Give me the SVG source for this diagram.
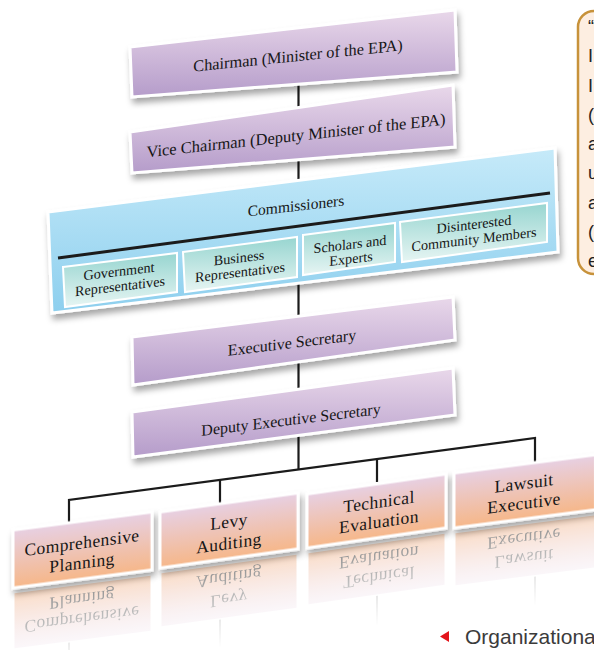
<svg xmlns="http://www.w3.org/2000/svg" width="594" height="650" viewBox="0 0 594 650">
<defs>
<style>
.t{font-family:"Liberation Serif","DejaVu Serif",serif;fill:#161616;text-anchor:middle}
.big{font-size:16px}
.sub{font-size:14.2px}
.bot{font-size:17.5px;letter-spacing:0.4px}
.pb{fill:url(#gPurple);stroke:#fff;stroke-width:3;filter:url(#sh)}
.bb{fill:url(#gBlue);stroke:#fff;stroke-width:3;filter:url(#sh)}
.tb{fill:url(#gTeal);stroke:#fff;stroke-width:2}
.ob{fill:url(#gPeach);stroke:#fff;stroke-width:3;filter:url(#sh)}
.rb{fill:url(#gPeach);stroke:#fff;stroke-width:3}
.refl{opacity:0.55}
.rl{stroke:#555;stroke-width:1.5}
.con{fill:none;stroke:#1b1b1b;stroke-width:2.2}
.c{font-family:"Liberation Sans",Arial,sans-serif;font-size:18px;fill:#222}
</style>
<filter id="sh" x="-10%" y="-20%" width="125%" height="160%">
<feDropShadow dx="2" dy="5" stdDeviation="3" flood-color="#000" flood-opacity="0.35"/>
</filter>
<linearGradient id="gPurple" x1="0" y1="0" x2="0" y2="1"><stop offset="0" stop-color="#e9d8ea"/><stop offset="1" stop-color="#b59cca"/></linearGradient>
<linearGradient id="gBlue" x1="0" y1="0" x2="0" y2="1"><stop offset="0" stop-color="#c6eaf9"/><stop offset="1" stop-color="#8dcfee"/></linearGradient>
<linearGradient id="gTeal" x1="0" y1="0" x2="0" y2="1"><stop offset="0" stop-color="#97d5d0"/><stop offset="1" stop-color="#e6f5f3"/></linearGradient>
<linearGradient id="gPeach" x1="0" y1="0" x2="0" y2="1"><stop offset="0" stop-color="#e7d0e3"/><stop offset="1" stop-color="#f6b789"/></linearGradient>
<linearGradient id="fade" gradientUnits="userSpaceOnUse" x1="0" y1="4" x2="0" y2="88"><stop offset="0" stop-color="#fff" stop-opacity="0.1"/><stop offset="1" stop-color="#fff" stop-opacity="1"/></linearGradient>
</defs>
<rect width="594" height="650" fill="#fff"/>

<g id="connectors" class="con">
<path d="M298.5,78V110"/>
<path d="M298.5,150V185"/>
<path d="M298.5,280V322"/>
<path d="M298.5,360V395"/>
<path d="M298.5,430V470"/>
<path d="M69,526V500L535,438V462"/>
<path d="M220,480V505"/>
<path d="M377,459.5V482"/>
</g>

<g id="chairman">
<polygon class="pb" points="130,47 455,10 457,72 132,97"/>
<text class="t big" style="font-size:16.3px" transform="translate(298,61) skewY(-5.8)">Chairman (Minister of the EPA)</text>
</g>

<g id="vice-chairman">
<polygon class="pb" points="130,132 453,85 455,147 132,173"/>
<text class="t big" style="font-size:16.5px" transform="translate(296,141) skewY(-6.3)">Vice Chairman (Deputy Minister of the EPA)</text>
</g>

<g id="commissioners">
<polygon class="bb" points="48,212 555,148 558,252 52,313"/>
<text class="t" style="font-size:15.5px" transform="translate(296,211) skewY(-6.5)">Commissioners</text>
<line x1="58" y1="258" x2="550" y2="193" stroke="#1b1b1b" stroke-width="3"/>
<g id="gov-reps">
<polygon class="tb" points="63,267 177,253 177,292 65,307"/>
<text class="t sub" transform="translate(119,276) skewY(-6.8)"><tspan x="0" y="0">Government</tspan><tspan x="1" y="15">Representatives</tspan></text>
</g>
<g id="business-reps">
<polygon class="tb" points="183,252 297,237 297,277 185,292"/>
<text class="t sub" transform="translate(239,262.5) skewY(-6.8)"><tspan x="0" y="0">Business</tspan><tspan x="1" y="14.5">Representatives</tspan></text>
</g>
<g id="scholars">
<polygon class="tb" points="303,235 395,223 395,262 303,275"/>
<text class="t sub" transform="translate(350,249) skewY(-6.8)"><tspan x="0" y="0">Scholars and</tspan><tspan x="1" y="14.5">Experts</tspan></text>
</g>
<g id="community">
<polygon class="tb" points="400,222 547,203 547,242 402,262"/>
<text class="t sub" transform="translate(474,229) skewY(-6.8)"><tspan x="0" y="0">Disinterested</tspan><tspan x="0" y="15">Community Members</tspan></text>
</g>
</g>

<g id="executive-secretary">
<polygon class="pb" points="132,337 453,297 455,340 133,385"/>
<text class="t big" transform="translate(292,348) skewY(-7)">Executive Secretary</text>
</g>

<g id="deputy-executive-secretary">
<polygon class="pb" points="132,412 453,368 455,415 133,457"/>
<text class="t big" transform="translate(291,425) skewY(-7)">Deputy Executive Secretary</text>
</g>

<g id="comprehensive-planning" transform="matrix(1,-0.13,0,1,13,588)">
<g class="refl" transform="translate(0,4) scale(1,-1)">
<rect class="rb" x="0" y="-58" width="139" height="58"/>
<line class="rl" x1="56" y1="-58" x2="56" y2="-84"/>
<text class="t bot"><tspan x="69" y="-30.5">Comprehensive</tspan><tspan x="69" y="-10.5">Planning</tspan></text>
</g>
<rect x="-3" y="2" width="145" height="92" fill="url(#fade)"/>
<rect class="ob" x="0" y="-58" width="139" height="58"/>
<text class="t bot"><tspan x="69" y="-30.5">Comprehensive</tspan><tspan x="69" y="-10.5">Planning</tspan></text>
</g>

<g id="levy-auditing" transform="matrix(1,-0.138,0,1,160,568)">
<g class="refl" transform="translate(0,4) scale(1,-1)">
<rect class="rb" x="0" y="-56" width="138" height="56"/>
<line class="rl" x1="60" y1="-56" x2="60" y2="-84"/>
<text class="t bot"><tspan x="69" y="-31">Levy</tspan><tspan x="69" y="-9.5">Auditing</tspan></text>
</g>
<rect x="-3" y="2" width="144" height="92" fill="url(#fade)"/>
<rect class="ob" x="0" y="-56" width="138" height="56"/>
<text class="t bot"><tspan x="69" y="-31">Levy</tspan><tspan x="69" y="-9.5">Auditing</tspan></text>
</g>

<g id="technical-evaluation" transform="matrix(1,-0.144,0,1,307,548)">
<g class="refl" transform="translate(0,4) scale(1,-1)">
<rect class="rb" x="0" y="-54" width="139" height="54"/>
<line class="rl" x1="70" y1="-54" x2="70" y2="-84"/>
<text class="t bot"><tspan x="72" y="-30">Technical</tspan><tspan x="72" y="-10">Evaluation</tspan></text>
</g>
<rect x="-3" y="2" width="145" height="92" fill="url(#fade)"/>
<rect class="ob" x="0" y="-54" width="139" height="54"/>
<text class="t bot"><tspan x="72" y="-30">Technical</tspan><tspan x="72" y="-10">Evaluation</tspan></text>
</g>

<g id="lawsuit-executive" transform="matrix(1,-0.129,0,1,454,528)">
<g class="refl" transform="translate(0,4) scale(1,-1)">
<rect class="rb" x="0" y="-55" width="142" height="55"/>
<line class="rl" x1="81" y1="-55" x2="81" y2="-84"/>
<text class="t bot"><tspan x="70" y="-30">Lawsuit</tspan><tspan x="70" y="-10">Executive</tspan></text>
</g>
<rect x="-3" y="2" width="148" height="92" fill="url(#fade)"/>
<rect class="ob" x="0" y="-55" width="142" height="55"/>
<text class="t bot"><tspan x="70" y="-30">Lawsuit</tspan><tspan x="70" y="-10">Executive</tspan></text>
</g>

<g id="callout">
<rect x="578" y="11" width="40" height="263" rx="16" fill="#fdeee1" stroke="#c7923a" stroke-width="2.5"/>
<text class="c" x="588" y="33">“</text>
<text class="c" x="588" y="62">I</text>
<text class="c" x="588" y="91.5">I</text>
<text class="c" x="588" y="121">(</text>
<text class="c" x="588" y="150">a</text>
<text class="c" x="588" y="179">u</text>
<text class="c" x="588" y="208.5">a</text>
<text class="c" x="588" y="238">(</text>
<text class="c" x="588" y="266.5">e</text>
</g>

<g id="caption">
<polygon points="440,636.5 449,631 449,642" fill="#e3141b"/>
<text x="465" y="644" style="font-family:'Liberation Sans',Arial,sans-serif;font-size:21px;fill:#3b3b3b">Organizationa</text>
</g>
</svg>
